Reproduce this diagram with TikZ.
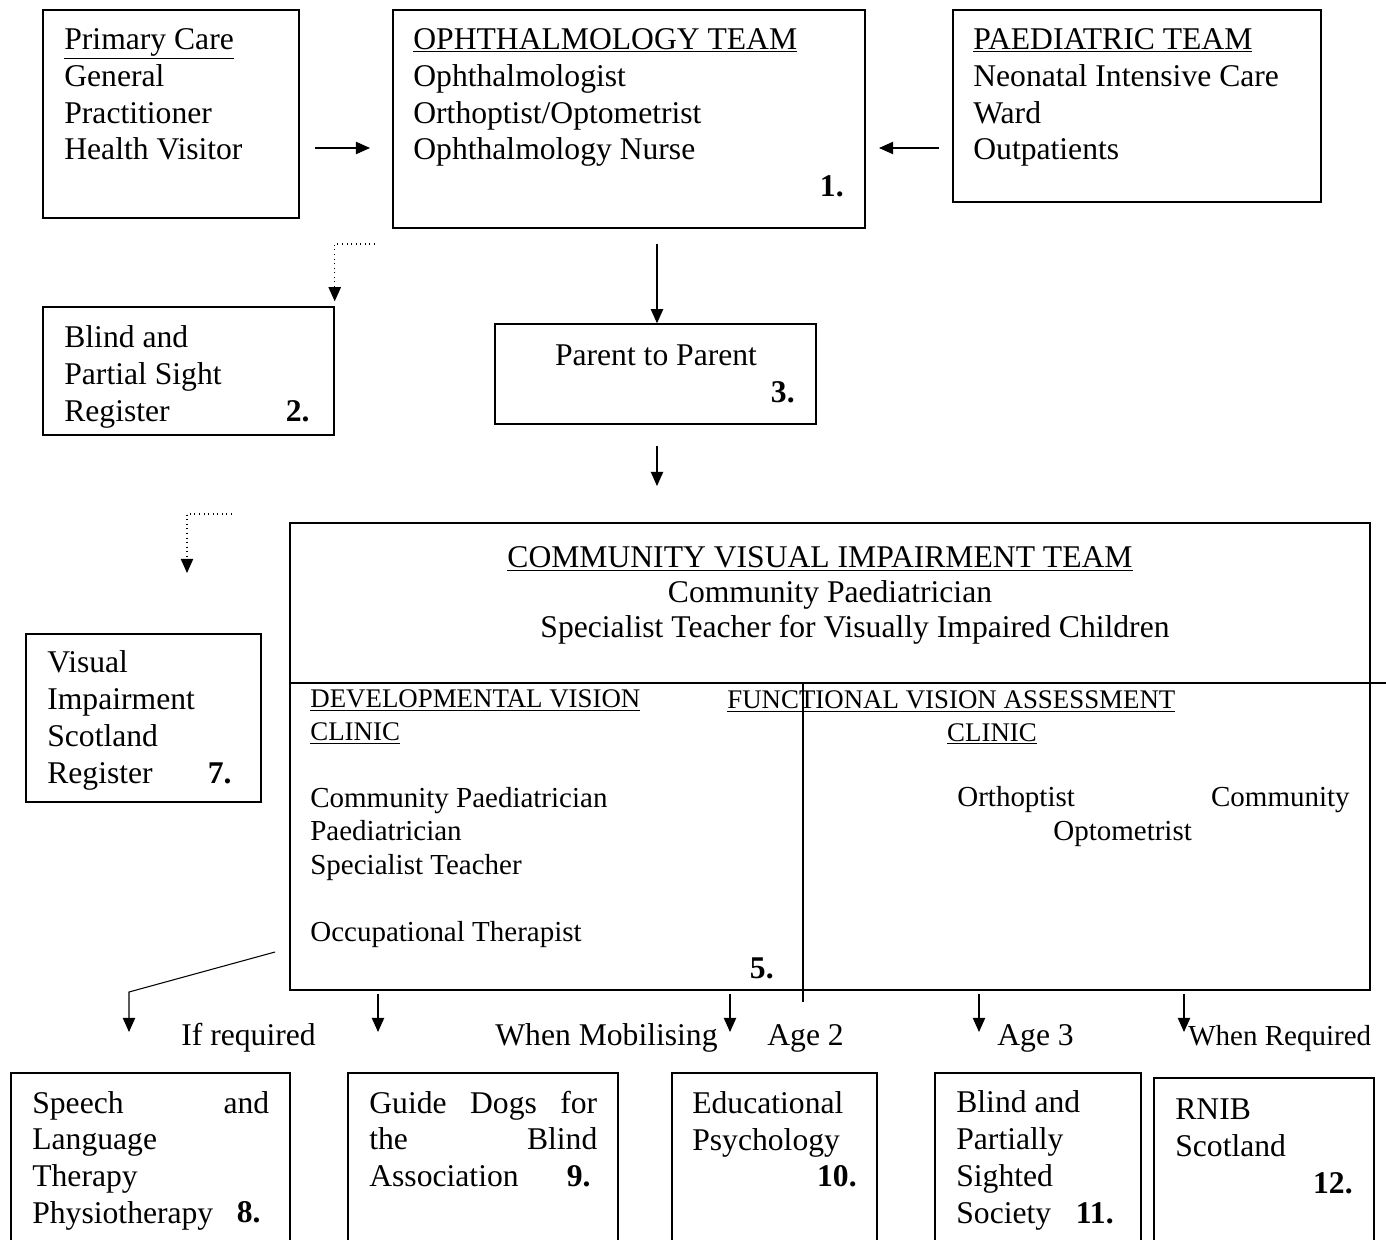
\documentclass[tikz,border=0pt]{standalone}
\usepackage{fontspec}
\setmainfont{Liberation Serif}
\usetikzlibrary{arrows.meta,fit}
\newcommand{\bigtxt}{\fontsize{18}{21.05}\selectfont}
\newcommand{\smalltxt}{\fontsize{16.5}{19}\selectfont}
\newcommand{\clinhead}[1]{{\fontsize{15.3}{19}\selectfont\underline{#1}}}
\tikzset{
	box/.style={draw,line width=0.8pt,inner sep=0pt},
	txt/.style={anchor=base west,align=left,inner sep=0pt,font=\bigtxt},
	clin/.style={anchor=base west,align=left,inner sep=0pt,font=\smalltxt},
	num/.style={anchor=base east,inner sep=0pt,font=\bigtxt\bfseries},
	arr/.style={-{Triangle[length=8pt,width=7pt]},line width=0.6pt},
	dotarr/.style={arr,dotted}
}
\begin{document}
\begin{tikzpicture}[x=0.02cm,y=-0.02cm]
		\useasboundingbox (0,0) rectangle (1386,1240);
		\clip (0,0) rectangle (1386,1240);
		\node[box,fit={(43,10)(299,218)}] (pc) {};
		\node[box,fit={(393,10)(865,228)}] (oph) {};
		\node[box,fit={(953,10)(1321,202)}] (paed) {};
		\node[box,fit={(43,307)(334,435)}] (reg) {};
		\node[box,fit={(495,324)(816,424)}] (par) {};
		\node[box,fit={(26,634)(261,802)}] (vis) {};
		\node[box,fit={(290,523)(1370,990)}] (cv) {};
		\node[box,fit={(11,1073)(290,1260)}] (sp) {};
		\node[box,fit={(348,1073)(618,1260)}] (gd) {};
		\node[box,fit={(672,1073)(877,1260)}] (ed) {};
		\node[box,fit={(935,1073)(1141,1260)}] (bp) {};
		\node[box,fit={(1154,1078)(1374,1260)}] (rn) {};
		\node[txt] (pctxt) at (64,160) {\underline{Primary Care}\\General\\Practitioner\\Health Visitor};
		\node[txt] (ophtxt) at (413,160) {\underline{OPHTHALMOLOGY TEAM}\\Ophthalmologist\\Orthoptist/Optometrist\\Ophthalmology Nurse};
		\node[num] (n1) at (844,197) {1.};
		\node[txt] (paedtxt) at (973,160) {\underline{PAEDIATRIC TEAM}\\Neonatal Intensive Care\\Ward\\Outpatients};
		\node[txt] (regtxt) at (64,421) {Blind and\\Partial Sight\\Register};
		\node[num] (n2) at (310,421) {2.};
		\node[txt,anchor=base] (partxt) at (656,365) {Parent to Parent};
		\node[num] (n3) at (795,402) {3.};
		\node[txt] (vistxt) at (47,783) {Visual\\Impairment\\Scotland\\Register};
		\node[num] (n7) at (232,783) {7.};
		\node[txt,anchor=base] (cvt1) at (820,567) {\underline{COMMUNITY VISUAL IMPAIRMENT TEAM}};
		\node[txt,anchor=base] (cvt2) at (830,602) {Community Paediatrician};
		\node[txt,anchor=base] (cvt3) at (855,637) {Specialist Teacher for Visually Impaired Children};
		\node[clin] (devtxt) at (310,941) {\clinhead{DEVELOPMENTAL VISION}\\\clinhead{CLINIC}\\[19pt]Community Paediatrician\\Paediatrician\\Specialist Teacher\\[19pt]Occupational Therapist};
		\node[clin] (funtxt) at (727,708) {\clinhead{FUNCTIONAL VISION ASSESSMENT}};
		\node[clin,anchor=base] (funclin) at (992,741) {\clinhead{CLINIC}};
		\node[clin] (orth) at (957,806) {Orthoptist};
		\node[clin,anchor=base east] (comm) at (1350,806) {Community};
		\node[clin] (opt) at (1053,840) {Optometrist};
		\node[num] (n5) at (774,978) {5.};
		\node[txt] (l1) at (181,1045) {If required};
		\node[txt] (l2) at (495,1045) {When Mobilising};
		\node[txt] (l3) at (767,1045) {Age 2};
		\node[txt] (l4) at (997,1045) {Age 3};
		\node[clin] (l5) at (1188,1045) {When Required};
		\node[txt,text width=4.74cm] (sptxt) at (32,1113) {Speech\hfill and\\Language\\Therapy\\Physiotherapy};
		\node[num] (n8) at (261,1222) {8.};
		\node[txt,text width=4.56cm] (gdtxt) at (369,1113) {Guide\hfill Dogs\hfill for\\the\hfill Blind\\Association};
		\node[num] (n9) at (591,1186) {9.};
		\node[txt] (edtxt) at (692,1150) {Educational\\Psychology};
		\node[num] (n10) at (857,1186) {10.};
		\node[txt] (bptxt) at (956,1223) {Blind and\\Partially\\Sighted\\Society};
		\node[num] (n11) at (1114,1223) {11.};
		\node[txt] (rntxt) at (1175,1156) {RNIB\\Scotland};
		\node[num] (n12) at (1353,1193) {12.};
		\coordinate (p1) at (315,148);
		\coordinate (p2) at (370,148);
		\coordinate (q1) at (939,148);
		\coordinate (q2) at (879,148);
		\coordinate (d1) at (375,244);
		\coordinate (o2p) at (657,244);
		\coordinate (p2c) at (657,446);
		\coordinate (p2ce) at (657,486);
		\coordinate (d2) at (232,514);
		\coordinate (d2e) at (187,573);
		\coordinate (hl) at (1386,683);
		\coordinate (vl) at (803,1002);
		\coordinate (g1) at (275,952);
		\coordinate (g2) at (129,992);
		\coordinate (g3) at (129,1032);
		\coordinate (a9) at (378,1032);
		\coordinate (a10) at (730,1032);
		\coordinate (a11) at (979,1032);
		\coordinate (a12) at (1184,1032);
		\draw[arr] (p1) -- (p2);
		\draw[arr] (q1) -- (q2);
		\draw[dotarr] (d1) -| ([yshift=0.1cm]reg.north east);
		\draw[arr] (o2p) -- (o2p |- par.north);
		\draw[arr] (p2c) -- (p2ce);
		\draw[dotarr] (d2) -| (d2e);
		\draw[line width=0.8pt] (cv.west |- hl) -- (hl);
		\draw[line width=0.8pt] (vl |- hl) -- (vl);
		\draw[arr] (g1) -- (g2) -- (g3);
		\draw[arr] ([yshift=-0.06cm]cv.south -| a9) -- (a9);
		\draw[arr] ([yshift=-0.06cm]cv.south -| a10) -- (a10);
		\draw[arr] ([yshift=-0.06cm]cv.south -| a11) -- (a11);
		\draw[arr] ([yshift=-0.06cm]cv.south -| a12) -- (a12);
		\end{tikzpicture}
\end{document}
